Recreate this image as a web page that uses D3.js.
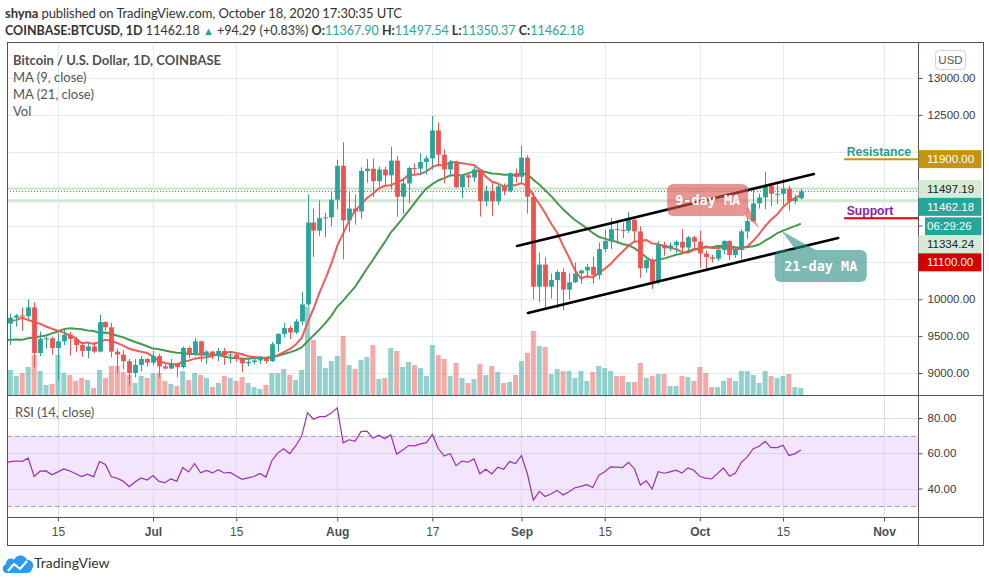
<!DOCTYPE html>
<html>
<head>
<meta charset="utf-8">
<script src="https://cdn.jsdelivr.net/npm/d3@7"></script>
<style>
  body { margin: 0; background: #fff; }
  svg { display: block; font-family: Lato, "Open Sans", sans-serif; }
</style>
</head>
<body>
<svg id="chart" width="989" height="582"></svg>
<script>
// BTCUSD daily candles on Coinbase, 2020-06-07 .. 2020-10-18 (UTC)
const firstDay = new Date(Date.UTC(2020, 5, 7));
const opens = [
  9670,9750,9780,9770,9890,9270,9460,9470,9340,9430,9520,9460,9380,9300,9360,9290,9690,9620,9290,9250,9160,9000,9110,9190,
  9140,9230,9090,9060,9130,9080,9340,9250,9430,9240,9290,9240,9300,9240,9250,9190,9130,9150,9170,9210,9160,9390,9530,9610,9550,9700,9930,11040,10930,11100,11110,
  11350,11810,11070,11230,11190,11740,11770,11600,11760,11680,11880,11390,11570,11780,11770,11860,11910,12290,11960,11760,11860,11520,11680,11650,11760,11330,11470,11330,11530,11470,11710,
  11660,11920,11390,10170,10470,10170,10260,10370,10130,10230,10350,10390,10440,10330,10680,10790,10950,10940,10930,11080,10920,10420,10530,10240,10740,10690,10730,10780,10700,10840,
  10780,10620,10570,10550,10670,10790,10600,10670,10920,11060,11300,11380,11540,11430,11430,11500,11330,11367.90
];
const highs = [
  9800,9800,9890,10000,9960,9560,9490,9490,9540,9590,9560,9490,9400,9400,9420,9790,9700,9680,9330,9310,9190,9190,9230,9200,
  9300,9260,9120,9190,9140,9360,9360,9470,9440,9310,9300,9340,9340,9280,9270,9210,9190,9200,9230,9220,9420,9540,9680,9640,9730,10100,11420,11230,11340,11170,11460,
  11890,12130,11470,11420,11790,11900,11910,11800,11800,12070,11940,11620,11800,11840,11980,11950,12485,12395,12030,11890,11880,11690,11710,11800,11770,11540,11590,11560,11570,11720,11770,
  12080,11950,11450,10630,10570,10350,10400,10420,10350,10500,10400,10480,10580,10770,10940,11100,11040,11040,11180,11080,10990,10570,10560,10790,10780,10770,10800,10950,10860,10860,
  10930,10660,10600,10690,10800,10800,10690,10950,11110,11490,11430,11730,11560,11560,11630,11540,11420,11497.54
];
const lows = [
  9380,9630,9570,9730,9080,9230,9330,9250,8900,9380,9240,9280,9220,9200,9270,9280,9580,9210,8990,9050,8830,8940,9020,9090,
  9100,8940,9050,9050,8940,9060,9200,9230,9150,9120,9190,9160,9110,9130,9150,9010,9090,9120,9120,9130,9150,9290,9480,9460,9530,9650,9900,10570,10860,10840,10990,
  11220,10540,10910,11010,11090,11580,11390,11530,11540,11490,11120,11160,11300,11680,11680,11690,11760,11800,11570,11670,11510,11370,11520,11590,11120,11260,11130,11280,11410,11450,11580,
  11570,11160,10000,9960,9870,10010,9880,9850,10000,10220,10210,10290,10210,10270,10640,10680,10750,10830,10900,10770,10290,10360,10140,10200,10590,10650,10630,10650,10650,10670,
  10430,10380,10500,10520,10610,10530,10560,10540,10820,11060,11230,11220,11260,11290,11270,11200,11290,11350.37
];
const closes = [
  9750,9780,9770,9890,9270,9460,9470,9340,9430,9520,9460,9380,9300,9360,9290,9690,9620,9290,9250,9160,9000,9110,9190,9140,
  9230,9090,9060,9130,9080,9340,9250,9430,9240,9290,9240,9300,9240,9250,9190,9130,9150,9170,9210,9160,9390,9530,9610,9550,9700,9930,11040,10930,11100,11110,11350,
  11810,11070,11230,11190,11740,11770,11600,11760,11680,11880,11390,11570,11780,11770,11860,11910,12290,11960,11760,11860,11520,11680,11650,11760,11330,11470,11330,11530,11470,11710,11660,
  11920,11390,10170,10470,10170,10260,10370,10130,10230,10350,10390,10440,10330,10680,10790,10950,10940,10930,11080,10920,10420,10530,10240,10740,10690,10730,10780,10700,10840,10780,
  10620,10570,10550,10670,10790,10600,10670,10920,11060,11300,11380,11540,11430,11430,11500,11330,11370,11462.18
];
// volume, thousand BTC
const volumes = [
  14.2,10.8,12.5,15.9,22.7,13.6,5.7,6.3,22.7,12.5,11.4,8,9.7,8.5,4,14.2,9.7,16.5,16.5,13.1,11.4,6.8,10.8,9.7,
  12.5,12.5,8,6.3,5.1,13.6,8.5,12.5,11.4,9.7,4.5,6.8,10.8,9.7,8,10.2,6.8,4.5,3.4,5.7,12.5,12.5,14.8,11.4,8.5,14.2,50,31.3,22.2,15.3,19.3,
  22.2,33.5,17,14.8,19.9,21.6,28.4,9.1,9.7,26.7,25,15.9,18.8,17,15.3,10.8,28.4,22.7,20.5,10.8,18.2,9.7,6.8,9.1,17.6,11.4,16.5,13.1,6.8,7.4,11.4,
  19.3,23.9,36.4,27.8,27.3,11.9,14.8,13.6,13.6,9.7,13.6,8,13.1,16.5,15.3,13.6,10.8,10.8,7.4,7.4,18.2,9.7,10.8,11.9,11.9,5.1,5.1,10.8,10.2,8,
  15.9,12.5,4.5,4.5,8,9.7,8,13.6,13.6,11.4,6.8,13.6,10.8,9.7,10.8,11.9,4.5,4
];
// closes 2020-05-01 .. 2020-06-06, only for the MA / RSI warm-up
const warmupStart = new Date(Date.UTC(2020, 4, 1));
const warmupCloses = [
  8830,8970,8900,8880,9030,9150,9990,9810,9540,8730,8570,8820,9310,9790,9320,9380,9680,9730,9780,9510,
  9060,9170,9180,8720,8900,8840,9200,9570,9430,9700,9450,10200,9520,9660,9800,9620,9670
];

const priceTicks = [9000, 9500, 10000, 10500, 11000, 11500, 12000, 12500, 13000];
const rsiTicks = [40, 60, 80];
const dateTicks = ["2020-06-15","2020-07-01","2020-07-15","2020-08-01","2020-08-17","2020-09-01","2020-09-15","2020-10-01","2020-10-15","2020-11-01"];
const dateTickLabels = ["15","Jul","15","Aug","17","Sep","15","Oct","15","Nov"];

const resistance = 11900, support = 11100;
const levelLines = [11497.19, 11334.24];
const rayStartDate = "2020-10-25T07:00Z";
const upperChannel = [["2020-08-31T06:00Z", 10722], ["2020-10-20T05:00Z", 11698]];
const lowerChannel = [["2020-09-02T02:00Z", 9814], ["2020-10-24T07:00Z", 10831]];
const maCallouts = [
  {text: "9-day MA", tip: ["2020-10-11T00:00Z", 10966], box: [-92, -44, 81, 32], tail: [[-14, -12], [-11, -21]], fill: "rgba(220,85,80,0.62)"},
  {text: "21-day MA", tip: ["2020-10-14T19:00Z", 10925], box: [-7, 19, 92, 32], tail: [[14, 19], [34, 19]], fill: "rgba(38,140,130,0.6)"}
];

// ---- layout
const L = 7, R = 918, TOP = 42, MAIN_B = 395, RSI_B = 517, AX_B = 545, FR = 983;
const svg = d3.select("#chart");
const teal = "#26a69a", red = "#ef5350";
const axisFont = "'Liberation Sans', Arial, sans-serif";

const xs = d3.scaleUtc()
  .domain([new Date(Date.UTC(2020, 6, 1)), new Date(Date.UTC(2020, 10, 1))])
  .range([153, 884]);
const ys = d3.scaleLinear().domain([9000, 13000]).range([373, 78]);
const yv = d3.scaleLinear().domain([0, 50]).range([MAIN_B, 307]);
const yr = d3.scaleLinear().domain([40, 80]).range([488.5, 418]);

const days = d3.utcDay.range(firstDay, d3.utcDay.offset(firstDay, closes.length));
const candles = days.map((d, i) => ({date: d, o: opens[i], h: highs[i], l: lows[i], c: closes[i], v: volumes[i]}));

const allCloses = warmupCloses.concat(closes);
const allDays = d3.utcDay.range(warmupStart, d3.utcDay.offset(warmupStart, allCloses.length));

const sma = (arr, n) => arr.map((v, i) => i < n - 1 ? null : d3.mean(arr.slice(i - n + 1, i + 1)));
const ma9 = sma(allCloses, 9), ma21 = sma(allCloses, 21);

function rsi(arr, n) {
  const out = arr.map(() => null);
  let ag = 0, al = 0;
  for (let i = 1; i < arr.length; i++) {
    const ch = arr[i] - arr[i - 1], g = Math.max(ch, 0), l = Math.max(-ch, 0);
    if (i <= n) {
      ag += g / n; al += l / n;
    } else {
      ag = (ag * (n - 1) + g) / n; al = (al * (n - 1) + l) / n;
    }
    if (i >= n) out[i] = al === 0 ? 100 : 100 - 100 / (1 + ag / al);
  }
  return out;
}
const rsi14 = rsi(allCloses, 14);

const defs = svg.append("defs");
defs.append("clipPath").attr("id", "clipMain").append("rect")
  .attr("x", L).attr("y", TOP).attr("width", R - L).attr("height", MAIN_B - TOP);
defs.append("clipPath").attr("id", "clipRsi").append("rect")
  .attr("x", L).attr("y", MAIN_B).attr("width", R - L).attr("height", RSI_B - MAIN_B);

// ---- header
const head = svg.append("g").attr("fill", "#333").attr("font-size", 13);
const h1 = head.append("text").attr("x", 5).attr("y", 17.5).attr("textLength", 397).attr("lengthAdjust", "spacing");
h1.append("tspan").attr("font-weight", "bold").text("shyna");
h1.append("tspan").text(" published on TradingView.com, October 18, 2020 17:30:35 UTC");
const h2 = head.append("text").attr("x", 5).attr("y", 34.5).attr("font-size", 12.5)
  .attr("textLength", 579).attr("lengthAdjust", "spacing");
h2.append("tspan").attr("font-weight", "bold").text("COINBASE:BTCUSD, 1D");
h2.append("tspan").text("  11462.18 ");
h2.append("tspan").attr("fill", teal).attr("font-size", 11).text("▲");
h2.append("tspan").text(" +94.29 (+0.83%)  ");
[["O:", "11367.90"], ["H:", "11497.54"], ["L:", "11350.37"], ["C:", "11462.18"]].forEach(([k, v], i) => {
  h2.append("tspan").attr("font-weight", "bold").text(k);
  h2.append("tspan").attr("fill", teal).text(i < 3 ? v + "  " : v);
});

// ---- grid
const grid = svg.append("g").attr("stroke", "#e3ecf3").attr("stroke-width", 1);
grid.selectAll("line.h").data(priceTicks).join("line")
  .attr("x1", L).attr("x2", R).attr("y1", d => Math.round(ys(d)) + 0.5).attr("y2", d => Math.round(ys(d)) + 0.5);
grid.selectAll("line.v").data(dateTicks).join("line")
  .attr("x1", d => Math.round(xs(new Date(d))) + 0.5).attr("x2", d => Math.round(xs(new Date(d))) + 0.5)
  .attr("y1", TOP).attr("y2", RSI_B);

// ---- RSI pane
const rsiG = svg.append("g").attr("clip-path", "url(#clipRsi)");
rsiG.append("rect").attr("x", L).attr("width", R - L)
  .attr("y", yr(70)).attr("height", yr(30) - yr(70)).attr("fill", "#f3e6fc");
rsiG.selectAll("line.rg").data(rsiTicks).join("line")
  .attr("x1", L).attr("x2", R).attr("y1", d => Math.round(yr(d)) + 0.5).attr("y2", d => Math.round(yr(d)) + 0.5)
  .attr("stroke", "rgba(190,195,230,0.55)");
rsiG.selectAll("line.rg2").data(dateTicks).join("line")
  .attr("x1", d => Math.round(xs(new Date(d))) + 0.5).attr("x2", d => Math.round(xs(new Date(d))) + 0.5)
  .attr("y1", MAIN_B).attr("y2", RSI_B).attr("stroke", "rgba(190,205,230,0.45)");
rsiG.selectAll("line.band").data([70, 30]).join("line")
  .attr("x1", L).attr("x2", R).attr("y1", d => Math.round(yr(d)) + 0.5).attr("y2", d => Math.round(yr(d)) + 0.5)
  .attr("stroke", "#a8a4b0").attr("stroke-dasharray", "5,3");
const rsiPts = allDays.map((d, i) => ({date: d, v: rsi14[i]}));
rsiG.append("path").datum(rsiPts)
  .attr("fill", "none").attr("stroke", "#9a2fb8").attr("stroke-width", 1.2)
  .attr("d", d3.line().defined(d => d.v != null).x(d => xs(d.date)).y(d => yr(d.v)));
svg.append("text").attr("x", 15).attr("y", 416.5).attr("font-size", 13).attr("fill", "#555").text("RSI (14, close)");

// ---- main pane
const main = svg.append("g").attr("clip-path", "url(#clipMain)");
const up = d => d.c >= d.o;

main.selectAll("rect.vol").data(candles).join("rect")
  .attr("x", d => xs(d.date) - 2.5).attr("width", 5)
  .attr("y", d => yv(d.v)).attr("height", d => yv(0) - yv(d.v))
  .attr("fill", d => up(d) ? "rgba(38,166,154,0.5)" : "rgba(239,83,80,0.5)");

main.selectAll("line.lvl").data(levelLines).join("line")
  .attr("x1", L).attr("x2", R).attr("y1", d => ys(d)).attr("y2", d => ys(d))
  .attr("stroke", "#d3e8d2").attr("stroke-width", 3);
const lastClose = closes[closes.length - 1];
main.append("line").attr("x1", L).attr("x2", R)
  .attr("y1", Math.round(ys(lastClose)) + 0.5).attr("y2", Math.round(ys(lastClose)) + 0.5)
  .attr("stroke", teal).attr("stroke-dasharray", "1,2");

const maLine = d3.line().defined(d => d.v != null).x(d => xs(d.date)).y(d => ys(d.v));
main.append("path").datum(allDays.map((d, i) => ({date: d, v: ma21[i]})))
  .attr("fill", "none").attr("stroke", "#3e9442").attr("stroke-width", 2).attr("stroke-opacity", 0.95).attr("d", maLine);
main.append("path").datum(allDays.map((d, i) => ({date: d, v: ma9[i]})))
  .attr("fill", "none").attr("stroke", "#f0524f").attr("stroke-width", 2).attr("stroke-opacity", 0.95).attr("d", maLine);

main.selectAll("line.wick").data(candles).join("line")
  .attr("x1", d => Math.round(xs(d.date)) + 0.5).attr("x2", d => Math.round(xs(d.date)) + 0.5)
  .attr("y1", d => ys(d.h)).attr("y2", d => ys(d.l))
  .attr("stroke", d => up(d) ? teal : red);
main.selectAll("rect.body").data(candles).join("rect")
  .attr("x", d => Math.round(xs(d.date)) + 0.5 - 2.4).attr("width", 4.8)
  .attr("y", d => ys(Math.max(d.o, d.c)))
  .attr("height", d => Math.max(1, Math.abs(ys(d.o) - ys(d.c))))
  .attr("fill", d => up(d) ? teal : red);

// channel drawn by the author
[upperChannel, lowerChannel].forEach(pts => {
  main.append("line")
    .attr("x1", xs(new Date(pts[0][0]))).attr("y1", ys(pts[0][1]))
    .attr("x2", xs(new Date(pts[1][0]))).attr("y2", ys(pts[1][1]))
    .attr("stroke", "#000").attr("stroke-width", 2.6).attr("stroke-linecap", "round");
});

// MA callouts
maCallouts.forEach(c => {
  const tx = xs(new Date(c.tip[0])), ty = ys(c.tip[1]);
  const [bx, by, bw, bh] = c.box;
  const g = main.append("g");
  g.append("path")
    .attr("d", `M${tx},${ty}L${tx + c.tail[0][0]},${ty + c.tail[0][1]}L${tx + c.tail[1][0]},${ty + c.tail[1][1]}Z`)
    .attr("fill", c.fill);
  g.append("rect").attr("x", tx + bx).attr("y", ty + by).attr("width", bw).attr("height", bh)
    .attr("rx", 6).attr("fill", c.fill);
  g.append("text").attr("x", tx + bx + bw / 2).attr("y", ty + by + bh / 2 + 5)
    .attr("text-anchor", "middle").attr("fill", "#fff")
    .attr("font-family", "'DejaVu Sans Mono', monospace").attr("font-size", 13.5).attr("font-weight", "bold")
    .text(c.text);
});

// resistance / support rays
const rayStart = xs(new Date(rayStartDate));
[[resistance, "#c49512", "Resistance", "#1f9d8f"], [support, "#d50000", "Support", "#8424a8"]].forEach(([p, col, label, tcol]) => {
  main.append("line").attr("x1", rayStart).attr("x2", R).attr("y1", ys(p)).attr("y2", ys(p))
    .attr("stroke", col).attr("stroke-width", 2);
  svg.append("text").attr("x", rayStart + 2.5).attr("y", ys(p) - 3.5)
    .attr("font-family", axisFont).attr("font-weight", "bold")
    .attr("font-size", 12.2).attr("fill", tcol).text(label);
});

// legend
const leg = svg.append("g").attr("font-size", 13).attr("fill", "#555");
leg.append("text").attr("x", 13).attr("y", 65).attr("font-weight", "bold").attr("fill", "#505050")
  .text("Bitcoin / U.S. Dollar, 1D, COINBASE");
leg.append("text").attr("x", 13).attr("y", 82).text("MA (9, close)");
leg.append("text").attr("x", 13).attr("y", 99).text("MA (21, close)");
leg.append("text").attr("x", 13).attr("y", 116).text("Vol");

// ---- frame
const frame = svg.append("g").attr("stroke", "#50535e").attr("stroke-width", 1);
[[L, TOP, FR, TOP], [L, MAIN_B, FR, MAIN_B], [L, RSI_B, FR, RSI_B], [L, AX_B, FR, AX_B]].forEach(([a, b, c, d]) =>
  frame.append("line").attr("x1", a).attr("y1", b + 0.5).attr("x2", c).attr("y2", d + 0.5));
[[L, TOP, AX_B], [R, TOP, AX_B], [FR, TOP, AX_B]].forEach(([x, a, b]) =>
  frame.append("line").attr("x1", x + 0.5).attr("y1", a).attr("x2", x + 0.5).attr("y2", b + 1));

// price-scale labels, stacked so they do not overlap
const markers = [
  {p: resistance, fill: "#c49512", color: "#fff"},
  {p: levelLines[0], fill: "#d6ebd5", color: "#222"},
  {p: lastClose, fill: teal, color: "#fff", sub: "06:29:26"},
  {p: levelLines[1], fill: "#d6ebd5", color: "#222"},
  {p: support, fill: "#d50000", color: "#fff"}
].sort((a, b) => b.p - a.p);
let prevBottom = -Infinity;
const boxes = [];
markers.forEach(m => {
  const hgt = 18;
  m.top = Math.max(ys(m.p) - hgt / 2, prevBottom);
  prevBottom = m.top + hgt;
  boxes.push([m.top, prevBottom]);
  if (m.sub) {
    m.subTop = prevBottom + 1.5;
    prevBottom = m.subTop + hgt;
    boxes.push([m.subTop, prevBottom]);
  }
});
const covered = v => boxes.some(([a, b]) => ys(v) > a && ys(v) < b);

// ---- axes
function styleAxis(g) {
  g.select(".domain").remove();
  g.selectAll(".tick line").attr("stroke", "#50535e");
  g.selectAll(".tick text").attr("fill", "#3a3a3a").attr("font-family", axisFont).attr("font-size", 11.5);
}
svg.append("g").attr("transform", `translate(${R + 0.5},0)`)
  .call(d3.axisRight(ys).tickValues(priceTicks).tickFormat(d3.format(".2f")).tickSize(4).tickPadding(5))
  .call(styleAxis)
  .call(g => g.selectAll(".tick text").filter(d => covered(d)).remove());
svg.append("g").attr("transform", `translate(${R + 0.5},0)`)
  .call(d3.axisRight(yr).tickValues(rsiTicks).tickFormat(d3.format(".2f")).tickSize(4).tickPadding(5))
  .call(styleAxis);
svg.append("g").attr("transform", `translate(0,${RSI_B + 0.5})`)
  .call(d3.axisBottom(xs).tickValues(dateTicks.map(d => new Date(d))).tickFormat((d, i) => dateTickLabels[i]).tickSize(4).tickPadding(6))
  .call(styleAxis)
  .call(g => g.selectAll(".tick text").attr("font-size", 12).attr("fill", "#4a4e58")
    .attr("font-weight", (d, i) => isNaN(+dateTickLabels[i]) ? "bold" : "normal"));

const mk = svg.append("g").attr("font-family", axisFont).attr("font-size", 11.5);
markers.forEach(m => {
  mk.append("rect").attr("x", R + 0.5).attr("y", m.top).attr("width", 63).attr("height", 18).attr("fill", m.fill);
  mk.append("text").attr("x", R + 9).attr("y", m.top + 13).attr("fill", m.color).text(d3.format(".2f")(m.p));
  if (m.sub) {
    mk.append("rect").attr("x", R + 7).attr("y", m.subTop).attr("width", 56.5).attr("height", 18).attr("fill", m.fill);
    mk.append("text").attr("x", R + 9).attr("y", m.subTop + 13).attr("fill", m.color).text(m.sub);
  }
});

// currency button
svg.append("rect").attr("x", 935.5).attr("y", 50.5).attr("width", 30).attr("height", 19).attr("rx", 4)
  .attr("fill", "#fff").attr("stroke", "#cfd2d8");
svg.append("text").attr("x", 950.5).attr("y", 64).attr("text-anchor", "middle")
  .attr("font-family", axisFont).attr("font-size", 11.5).attr("fill", "#555").text("USD");

// ---- TradingView footer
const logo = svg.append("g");
logo.append("path")
  .attr("d", "M7,573 C2,573 1,566 6,564 C6,559 11,557 14,560 C16,554 25,554 27,560 C32,559 35,565 32,569 C31,572 29,573 27,573 Z")
  .attr("fill", "#2b9af3");
logo.append("path").attr("d", "M8,571 L14,564 L20,569 L27,561")
  .attr("fill", "none").attr("stroke", "#fff").attr("stroke-width", 2.2).attr("stroke-linejoin", "round");
svg.append("text").attr("x", 34).attr("y", 568).attr("font-size", 14).attr("fill", "#333").text("TradingView");
</script>
</body>
</html>
